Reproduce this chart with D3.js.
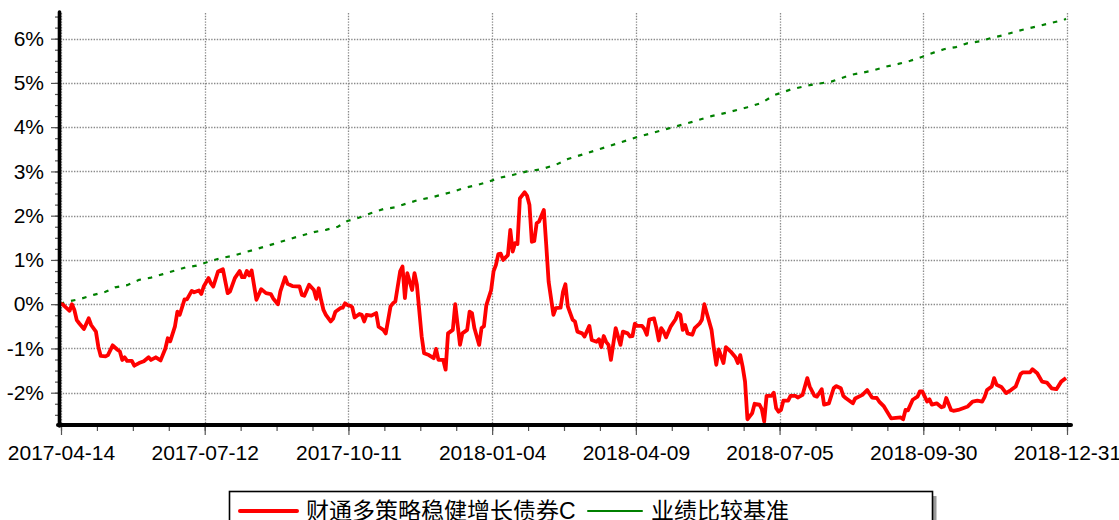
<!DOCTYPE html>
<html lang="zh">
<head>
<meta charset="UTF-8">
<script src="https://cdnjs.cloudflare.com/ajax/libs/d3/7.8.5/d3.min.js"></script>
<style>
    body { margin: 0; background: #fff; }
    svg text { font-family: "Liberation Sans", Arial, sans-serif; fill: #000; }
    .legend text { font-family: "Liberation Sans", "Noto Sans CJK SC", sans-serif; }
</style>
<title>财通多策略稳健增长债券C</title>
</head>
<body>
<svg id="chart" width="1119" height="520"></svg>
<script>
    // x axis is trading-day index, labels every 60 trading days
    var dateLabels = ['2017-04-14', '2017-07-12', '2017-10-11', '2018-01-04',
        '2018-04-09', '2018-07-05', '2018-09-30', '2018-12-31'];
    var labelDays = [0, 60, 120, 180, 240, 300, 360, 420];
    var yTicks = [-2, -1, 0, 1, 2, 3, 4, 5, 6];
    var seriesNames = ['财通多策略稳健增长债券C', '业绩比较基准'];

    // [trading day, cumulative return %]
    var fund = [
        [0, 0.00], [1, 0.00], [2, -0.05], [4, -0.15], [5, 0.00], [6, -0.13], [7, -0.36], [8, -0.43],
        [10, -0.56], [12, -0.32], [13, -0.47], [15, -0.62], [16, -0.96], [17, -1.17], [19, -1.18],
        [20, -1.15], [22, -0.93], [24, -1.03], [25, -1.07], [26, -1.26], [27, -1.20], [28, -1.28],
        [30, -1.28], [31, -1.39], [33, -1.33], [35, -1.29], [37, -1.20], [38, -1.26], [40, -1.20],
        [42, -1.27], [44, -1.00], [45, -0.77], [46, -0.84], [48, -0.50], [49, -0.17], [50, -0.24],
        [52, 0.11], [53, 0.11], [55, 0.30], [56, 0.27], [58, 0.31], [59, 0.23], [60, 0.40],
        [62, 0.59], [63, 0.47], [64, 0.40], [66, 0.74], [68, 0.79], [70, 0.25], [71, 0.29],
        [73, 0.59], [75, 0.75], [76, 0.61], [77, 0.61], [78, 0.75], [79, 0.65], [80, 0.76],
        [82, 0.10], [84, 0.34], [86, 0.25], [88, 0.23], [89, 0.13], [91, 0.00], [92, 0.29],
        [94, 0.61], [95, 0.46], [97, 0.41], [100, 0.40], [101, 0.21], [102, 0.19], [104, 0.44],
        [106, 0.32], [107, 0.12], [108, 0.36], [109, 0.10], [110, -0.13], [111, -0.24], [113, -0.39],
        [114, -0.33], [115, -0.17], [117, -0.09], [118, -0.08], [119, 0.02], [120, -0.02],
        [121, -0.03], [122, -0.07], [123, -0.30], [125, -0.22], [126, -0.24], [127, -0.39],
        [128, -0.24], [130, -0.26], [132, -0.20], [133, -0.51], [135, -0.58], [136, -0.66],
        [138, -0.05], [139, 0.02], [140, 0.06], [142, 0.74], [143, 0.85], [144, 0.14], [145, 0.70],
        [147, 0.32], [148, 0.70], [149, 0.44], [151, -0.73], [152, -1.11], [154, -1.15],
        [156, -1.22], [157, -1.01], [158, -1.26], [160, -1.26], [161, -1.48], [162, -0.66],
        [164, -0.58], [165, 0.00], [167, -0.92], [168, -0.66], [170, -0.58], [171, -0.17],
        [172, -0.20], [173, -0.54], [175, -0.92], [176, -0.54], [177, -0.50], [178, -0.02],
        [180, 0.32], [181, 0.74], [182, 0.89], [183, 1.13], [184, 1.14], [185, 1.00], [187, 1.11],
        [188, 1.68], [189, 1.19], [190, 1.38], [191, 1.36], [192, 2.39], [194, 2.53], [195, 2.45],
        [196, 2.24], [197, 1.41], [198, 1.43], [199, 1.83], [200, 1.87], [202, 2.13], [203, 1.34],
        [204, 0.51], [206, -0.24], [207, -0.09], [209, -0.08], [210, 0.28], [211, 0.45],
        [212, -0.05], [214, -0.35], [215, -0.39], [216, -0.62], [218, -0.66], [219, -0.73],
        [221, -0.49], [222, -0.81], [224, -0.85], [225, -0.79], [226, -0.97], [227, -0.72],
        [228, -0.85], [229, -0.92], [230, -1.26], [232, -0.54], [234, -0.92], [235, -0.62],
        [237, -0.66], [238, -0.73], [239, -0.72], [240, -0.44], [241, -0.49], [243, -0.49],
        [244, -0.56], [245, -0.69], [246, -0.35], [248, -0.32], [249, -0.54], [250, -0.82],
        [251, -0.54], [252, -0.62], [253, -0.75], [255, -0.50], [257, -0.34], [258, -0.20],
        [259, -0.24], [260, -0.58], [261, -0.47], [262, -0.66], [264, -0.69], [265, -0.54],
        [267, -0.44], [268, -0.35], [269, 0.00], [270, -0.20], [272, -0.58], [273, -1.00],
        [274, -1.37], [275, -1.02], [277, -1.33], [278, -0.97], [280, -1.07], [282, -1.20],
        [283, -1.33], [284, -1.15], [285, -1.41], [286, -1.75], [287, -2.60], [289, -2.46],
        [290, -2.25], [292, -2.27], [293, -2.37], [294, -2.65], [295, -2.07], [297, -2.07],
        [298, -2.00], [299, -2.35], [300, -2.43], [301, -2.39], [302, -2.18], [304, -2.18],
        [305, -2.07], [307, -2.07], [308, -2.11], [310, -2.05], [312, -1.67], [313, -1.86],
        [315, -2.07], [316, -2.09], [318, -1.92], [319, -2.27], [321, -2.24], [323, -1.90],
        [324, -1.85], [326, -1.90], [327, -2.07], [328, -2.12], [331, -2.24], [332, -2.13],
        [335, -2.05], [337, -1.94], [339, -2.11], [341, -2.12], [342, -2.20], [344, -2.31],
        [347, -2.58], [349, -2.57], [351, -2.56], [352, -2.60], [353, -2.39], [354, -2.40],
        [356, -2.16], [358, -2.09], [359, -1.97], [360, -1.97], [362, -2.20], [363, -2.15],
        [364, -2.27], [366, -2.24], [368, -2.33], [369, -2.31], [370, -2.12], [372, -2.39],
        [373, -2.41], [375, -2.39], [377, -2.35], [379, -2.31], [381, -2.20], [383, -2.18],
        [385, -2.20], [386, -2.10], [387, -1.94], [389, -1.86], [390, -1.67], [391, -1.82],
        [393, -1.87], [395, -2.01], [397, -1.94], [399, -1.86], [401, -1.58], [402, -1.54],
        [405, -1.54], [406, -1.47], [408, -1.56], [410, -1.75], [412, -1.77], [414, -1.90],
        [416, -1.92], [418, -1.75], [420, -1.67]
    ];

    var bench = [
        [0, 0.00], [3, 0.06], [8, 0.11], [14, 0.21], [19, 0.28], [23, 0.38], [28, 0.43], [33, 0.55],
        [38, 0.60], [43, 0.68], [48, 0.76], [53, 0.84], [57, 0.87], [62, 0.96], [67, 1.04],
        [72, 1.09], [77, 1.17], [81, 1.23], [91, 1.39], [97, 1.49], [106, 1.63], [111, 1.68],
        [116, 1.75], [120, 1.88], [125, 1.96], [130, 2.06], [135, 2.15], [140, 2.19], [145, 2.28],
        [150, 2.36], [155, 2.41], [159, 2.47], [164, 2.54], [169, 2.63], [174, 2.69], [179, 2.77],
        [183, 2.85], [189, 2.92], [195, 3.00], [201, 3.05], [207, 3.15], [212, 3.28], [218, 3.38],
        [225, 3.50], [232, 3.62], [240, 3.76], [248, 3.88], [256, 4.00], [264, 4.12], [272, 4.25],
        [280, 4.35], [287, 4.45], [293, 4.55], [298, 4.72], [305, 4.85], [313, 4.95], [322, 5.03],
        [330, 5.18], [335, 5.23], [340, 5.29], [345, 5.37], [350, 5.43], [355, 5.50], [360, 5.59],
        [365, 5.69], [369, 5.76], [374, 5.81], [379, 5.90], [384, 5.94], [389, 6.02], [394, 6.08],
        [399, 6.16], [404, 6.23], [409, 6.29], [414, 6.36], [419, 6.42], [420, 6.45]
    ];

    var svg = d3.select('#chart');

    var x = d3.scaleLinear().domain([0, 420]).range([60, 1066]);
    var y = d3.scaleLinear().domain([-2.73, 6.58]).range([425, 13]);

    // grid
    var grid = svg.append('g').attr('class', 'grid')
            .attr('stroke', '#8a8a8a')
            .attr('stroke-width', 1.3)
            .attr('stroke-dasharray', '1.4,1.4');
    grid.selectAll('.hgrid')
            .data(yTicks)
            .enter().append('line')
            .attr('class', 'hgrid')
            .attr('x1', x(0)).attr('x2', x(420) + 2)
            .attr('y1', function(d) { return Math.round(y(d)) + 0.5; })
            .attr('y2', function(d) { return Math.round(y(d)) + 0.5; });
    grid.selectAll('.vgrid')
            .data(labelDays)
            .enter().append('line')
            .attr('class', 'vgrid')
            .attr('x1', function(d) { return Math.round(x(d)) + 1.5; })
            .attr('x2', function(d) { return Math.round(x(d)) + 1.5; })
            .attr('y1', y.range()[1]).attr('y2', y.range()[0]);

    // minor + major ticks
    var minorY = d3.range(-2.5, 6.51, 0.25);
    var minorX = d3.range(0, 421, 15);

    svg.append('g')
            .attr('transform', 'translate(59,0)')
            .call(d3.axisLeft(y).tickValues(minorY).tickSize(4).tickFormat(''))
            .call(function(g) { g.select('.domain').remove(); })
            .selectAll('line').attr('stroke', '#555').attr('stroke-width', 1.2);

    var yAxis = svg.append('g')
            .attr('transform', 'translate(59,0)')
            .call(d3.axisLeft(y).tickValues(yTicks).tickSize(8).tickPadding(7)
                    .tickFormat(function(d) { return d + '%'; }));
    yAxis.select('.domain').remove();
    yAxis.selectAll('line').attr('stroke', '#555').attr('stroke-width', 1.2);
    yAxis.selectAll('text').style('font-size', '21px').attr('fill', '#000');

    svg.append('g')
            .attr('transform', 'translate(1,425)')
            .call(d3.axisBottom(x).tickValues(minorX).tickSize(6).tickFormat(''))
            .call(function(g) { g.select('.domain').remove(); })
            .selectAll('line').attr('stroke', '#555').attr('stroke-width', 1.2);

    var xAxis = svg.append('g')
            .attr('transform', 'translate(1,425)')
            .call(d3.axisBottom(x).tickValues(labelDays).tickSize(10).tickPadding(10)
                    .tickFormat(function(d, i) { return dateLabels[i]; }));
    xAxis.select('.domain').remove();
    xAxis.selectAll('line').attr('stroke', '#555').attr('stroke-width', 1.2);
    xAxis.selectAll('text').style('font-size', '21px').attr('fill', '#000');

    // series
    var line = d3.line()
            .x(function(d) { return x(d[0]); })
            .y(function(d) { return y(d[1]); });

    svg.append('path')
            .datum(bench)
            .attr('fill', 'none')
            .attr('stroke', '#008000')
            .attr('stroke-width', 2.2)
            .attr('stroke-dasharray', '4.5,7')
            .attr('d', line);

    svg.append('path')
            .datum(fund)
            .attr('fill', 'none')
            .attr('stroke', '#ff0000')
            .attr('stroke-width', 3.8)
            .attr('stroke-linejoin', 'round')
            .attr('d', line);

    // axis lines
    svg.append('line')
            .attr('x1', 59.5).attr('x2', 59.5)
            .attr('y1', 12).attr('y2', 426)
            .attr('stroke', '#000').attr('stroke-width', 3.6)
            .attr('stroke-linecap', 'round');
    svg.append('line')
            .attr('x1', 58).attr('x2', 1071)
            .attr('y1', 425).attr('y2', 425)
            .attr('stroke', '#000').attr('stroke-width', 4)
            .attr('stroke-linecap', 'round');

    // legend
    var legend = svg.append('g').attr('class', 'legend');
    legend.append('rect')
            .attr('x', 233.5).attr('y', 496).attr('width', 703).attr('height', 40)
            .attr('fill', '#9a9a9a');
    legend.append('rect')
            .attr('x', 229.5).attr('y', 491.5).attr('width', 703).attr('height', 40)
            .attr('fill', '#fff').attr('stroke', '#000').attr('stroke-width', 1.6);

    var legendItems = [
        {name: seriesNames[0], color: '#ff0000', width: 4, x: 240, len: 57},
        {name: seriesNames[1], color: '#008000', width: 2, x: 588, len: 54}
    ];
    var item = legend.selectAll('.item')
            .data(legendItems)
            .enter().append('g')
            .attr('class', 'item');
    item.append('line')
            .attr('x1', function(d) { return d.x; })
            .attr('x2', function(d) { return d.x + d.len; })
            .attr('y1', 511).attr('y2', 511)
            .attr('stroke', function(d) { return d.color; })
            .attr('stroke-width', function(d) { return d.width; })
            .attr('stroke-linecap', 'round');
    item.append('text')
            .attr('x', function(d) { return d.x + d.len + 9; })
            .attr('y', 519)
            .style('font-size', '23px')
            .text(function(d) { return d.name; });
</script>
</body>
</html>
